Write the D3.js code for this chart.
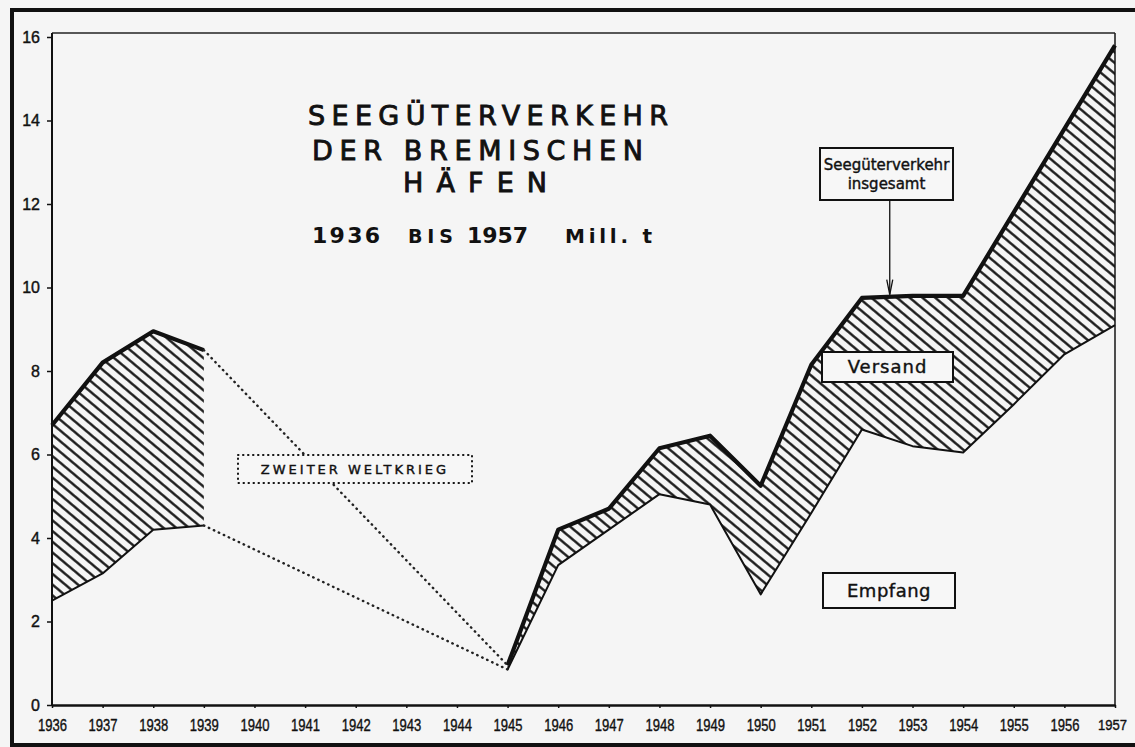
<!DOCTYPE html>
<html>
<head>
<title>Seegüterverkehr</title>
<script src="https://d3js.org/d3.v7.min.js"></script>
<style>
  body { margin: 0; background: #f5f5f5; overflow: hidden; }
  svg { display: block; }
  .axis text { font-family: "Liberation Sans", Arial, sans-serif; fill: #111; stroke: #111; stroke-width: 0.4px; }
  .axis line, .axis path { stroke: #111; }
  .lbl { font-family: "DejaVu Sans", sans-serif; fill: #111; }
</style>
</head>
<body>
<svg id="svg" width="1135" height="747"></svg>
<script>
// years on the x axis (also the tick labels)
const years = [1936, 1937, 1938, 1939, 1940, 1941, 1942, 1943, 1944, 1945, 1946,
               1947, 1948, 1949, 1950, 1951, 1952, 1953, 1954, 1955, 1956, 1957];
// Seegüterverkehr insgesamt (Mill. t), no values for the war years
const total = [6.7, 8.2, 8.95, 8.5, null, null, null, null, null, 0.95, 4.2,
               4.7, 6.15, 6.45, 5.25, 8.15, 9.75, 9.8, 9.8, 11.8, 13.8, 15.8];
// Empfang (lower line); Versand is the hatched band between the two
const empfang = [2.5, 3.15, 4.2, 4.3, null, null, null, null, null, 0.85, 3.35,
                 4.2, 5.05, 4.8, 2.65, 4.6, 6.6, 6.2, 6.05, 7.2, 8.4, 9.1];
const yTicks = [0, 2, 4, 6, 8, 10, 12, 14, 16];

const titleLines = ["SEEGÜTERVERKEHR", "DER BREMISCHEN", "HÄFEN"];
const subTitle = ["1936", "BIS", "1957", "Mill. t"];

const rows = years.map((yr, i) => ({year: yr, total: total[i], empfang: empfang[i]}));

const svg = d3.select("svg#svg");

const x = d3.scaleLinear().domain([1936, 1957]).range([52, 1115]);
const y = d3.scaleLinear().domain([0, 16]).range([705, 37]);

// hatch pattern for the Versand band
const defs = svg.append("defs");
const hatch = defs.append("pattern")
    .attr("id", "hatch")
    .attr("patternUnits", "userSpaceOnUse")
    .attr("width", 12)
    .attr("height", 8.2)
    .attr("patternTransform", "rotate(40)");
hatch.append("line")
    .attr("x1", -1).attr("x2", 13)
    .attr("y1", 4.1).attr("y2", 4.1)
    .attr("stroke", "#111")
    .attr("stroke-width", 2.3);

// outer frame of the picture (left, top, bottom; right edge is cut off)
let outer = svg.append("g").attr("stroke", "#111").attr("stroke-width", 4);
outer.append("line").attr("x1", 12).attr("x2", 12).attr("y1", 8).attr("y2", 747);
outer.append("line").attr("x1", 10).attr("x2", 1135).attr("y1", 10).attr("y2", 10);
outer.append("line").attr("x1", 10).attr("x2", 1135).attr("y1", 745).attr("y2", 745);

// inner frame (top and right)
let frame = svg.append("g").attr("stroke", "#222").attr("stroke-width", 1.6);
frame.append("line").attr("x1", x(1936)).attr("x2", x(1957)).attr("y1", 33).attr("y2", 33);
frame.append("line").attr("x1", x(1957)).attr("x2", x(1957)).attr("y1", 33).attr("y2", y(0));

// Axes
let leftAxis = d3.axisLeft(y)
    .tickValues(yTicks)
    .tickSize(5)
    .tickSizeOuter(0)
    .tickPadding(7);
let left = svg.append("g")
    .attr("class", "axis")
    .attr("transform", `translate(${x(1936)},0)`)
    .call(leftAxis);
left.select(".domain").attr("d", `M0,33V${y(0)}`).attr("stroke-width", 2);
left.selectAll("line").attr("stroke-width", 1.5);
left.selectAll("text").style("font-size", "16px");

let bottomAxis = d3.axisBottom(x)
    .tickValues(years)
    .tickFormat(d => d)
    .tickSize(3)
    .tickSizeOuter(0)
    .tickPadding(11);
let bottom = svg.append("g")
    .attr("class", "axis")
    .attr("transform", `translate(0,${y(0)})`)
    .call(bottomAxis);
bottom.select(".domain").attr("stroke-width", 2.5);
bottom.selectAll("line").attr("stroke-width", 1.5);
bottom.selectAll("text")
    .style("font-size", "17px")
    .attr("textLength", 29)
    .attr("lengthAdjust", "spacingAndGlyphs");
// last label sits against the cut edge, keep it inside
bottom.selectAll(".tick").filter(d => d === 1957).select("text")
    .attr("x", -3)
    .style("font-size", "15px");

// Versand band
const areaGen = d3.area()
    .defined(d => d.total != null)
    .x(d => x(d.year))
    .y0(d => y(d.empfang))
    .y1(d => y(d.total));
svg.append("path")
    .datum(rows)
    .attr("fill", "url(#hatch)")
    .attr("d", areaGen);

// lines
const lineTotal = d3.line().defined(d => d.total != null).x(d => x(d.year)).y(d => y(d.total));
const lineEmpf = d3.line().defined(d => d.empfang != null).x(d => x(d.year)).y(d => y(d.empfang));

svg.append("path")
    .datum(rows)
    .attr("fill", "none")
    .attr("stroke", "#111")
    .attr("stroke-width", 2)
    .attr("stroke-linejoin", "round")
    .attr("d", lineEmpf);

svg.append("path")
    .datum(rows)
    .attr("fill", "none")
    .attr("stroke", "#111")
    .attr("stroke-width", 4.2)
    .attr("stroke-linejoin", "round")
    .attr("d", lineTotal);

// dotted links across the war years
const war = rows.filter(d => d.year === 1939 || d.year === 1945);
[d3.line().x(d => x(d.year)).y(d => y(d.total)),
 d3.line().x(d => x(d.year)).y(d => y(d.empfang))].forEach(gen => {
    svg.append("path")
        .datum(war)
        .attr("fill", "none")
        .attr("stroke", "#222")
        .attr("stroke-width", 2.4)
        .attr("stroke-linecap", "round")
        .attr("stroke-dasharray", "0.5,5")
        .attr("d", gen);
});

// title
let title = svg.append("g").attr("class", "lbl")
    .style("font-size", "27px")
    .style("stroke", "#111")
    .style("stroke-width", "0.9px");
title.append("text").attr("x", 308).attr("y", 125).attr("textLength", 360).text(titleLines[0]);
title.append("text").attr("x", 312).attr("y", 160).attr("textLength", 331).text(titleLines[1]);
title.append("text").attr("x", 403).attr("y", 192).attr("textLength", 144).text(titleLines[2]);

let sub = svg.append("g").attr("class", "lbl").style("font-size", "22px").style("font-weight", "bold");
sub.append("text").attr("x", 312).attr("y", 243).attr("textLength", 68).text(subTitle[0]);
sub.append("text").attr("x", 408).attr("y", 243).attr("textLength", 45).style("font-size", "19px").text(subTitle[1]);
sub.append("text").attr("x", 467).attr("y", 243).attr("textLength", 61).text(subTitle[2]);
sub.append("text").attr("x", 565).attr("y", 243).attr("textLength", 87).style("font-size", "20px").text(subTitle[3]);

// label boxes
function labelBox(x0, y0, w, h, lines, size, dashed) {
    let g = svg.append("g");
    g.append("rect")
        .attr("x", x0).attr("y", y0).attr("width", w).attr("height", h)
        .attr("fill", "#f7f7f7")
        .attr("stroke", "#111")
        .attr("stroke-width", 2)
        .attr("stroke-dasharray", dashed ? "0.5,4.5" : null)
        .attr("stroke-linecap", dashed ? "round" : null);
    lines.forEach((t, i) => {
        g.append("text")
            .attr("class", "lbl")
            .attr("x", x0 + w / 2)
            .attr("y", y0 + h / 2 + (i - (lines.length - 1) / 2) * size * 1.3)
            .attr("dy", "0.36em")
            .attr("text-anchor", "middle")
            .style("font-size", size + "px")
            .style("stroke", "#111")
            .style("stroke-width", "0.4px")
            .text(t);
    });
    return g;
}

labelBox(820, 148, 133, 52, ["Seegüterverkehr", "insgesamt"], 15);
labelBox(822, 352, 131, 30, ["Versand"], 18).select("text").attr("letter-spacing", 1);
labelBox(823, 573, 132, 35, ["Empfang"], 18).select("text").attr("letter-spacing", 0.5);
labelBox(238, 455, 234, 28, ["ZWEITER WELTKRIEG"], 13, true).select("text").attr("letter-spacing", 3);

// arrow from the "insgesamt" box to the total line
const ax = x(1952.55);
const tip = y(9.78) - 2;
svg.append("line")
    .attr("x1", ax).attr("x2", ax).attr("y1", 200).attr("y2", tip)
    .attr("stroke", "#111").attr("stroke-width", 1.3);
svg.append("path")
    .attr("d", `M${ax - 3},${tip - 15}L${ax},${tip}L${ax + 3},${tip - 15}`)
    .attr("fill", "none").attr("stroke", "#111").attr("stroke-width", 1.3);
</script>
</body>
</html>
